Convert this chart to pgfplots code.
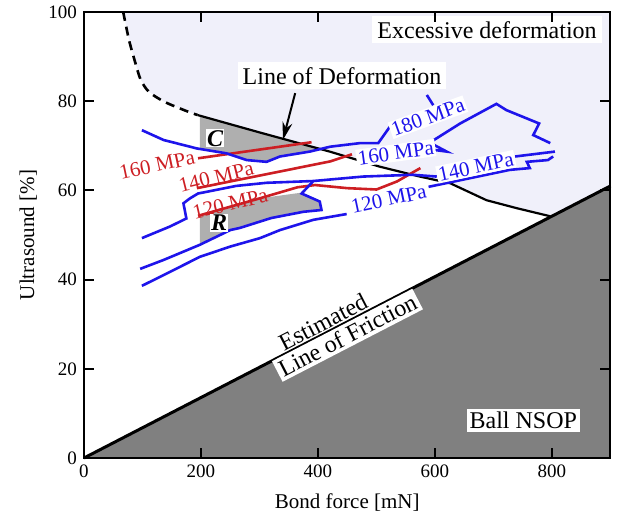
\documentclass[border=0pt]{standalone}
\usepackage{fontspec}
\setmainfont{Liberation Serif}
\usepackage{pgfplots}
\pgfplotsset{compat=1.18}
\usetikzlibrary{arrows.meta}
\definecolor{lav}{RGB}{240,240,250}
\definecolor{nsop}{RGB}{128,128,128}
\definecolor{cblue}{RGB}{30,20,235}
\definecolor{cred}{RGB}{205,30,35}
\definecolor{hatch}{RGB}{175,175,175}
\newcommand{\bigf}{\fontsize{12}{14}\selectfont}
\newcommand{\mpa}{\fontsize{10.5}{12}\selectfont}
\begin{document}
\begin{tikzpicture}
\useasboundingbox (-42pt,-29.5pt) rectangle (266.5pt,229pt);
\begin{axis}[at={(0,0)}, anchor=south west, scale only axis,
  width=263.25pt, height=223pt,
  xmin=0, xmax=900, ymin=0, ymax=100,
  xtick={0,200,400,600,800}, ytick={0,20,40,60,80,100},
  tick align=inside, major tick length=5pt,
  axis line style={line width=1pt},
  every tick/.style={black, line width=1pt},
  tick label style={font=\fontsize{9.5}{11}\selectfont},
  /pgf/number format/assume math mode=true,
  xlabel={Bond force [mN]}, ylabel={Ultrasound [\%]},
  label style={font=\fontsize{10.5}{12}\selectfont},
  xlabel style={at={(axis description cs:0.5,-0.10)}, anchor=center},
  ylabel style={at={(axis description cs:-0.106,0.5)}, anchor=center},
  axis on top, clip=false]
% excessive deformation region
\addplot[fill=lav, draw=none] coordinates {(67,100) (77,93.7) (88,88.5) (97,84.8) (111,82.1) (137,79.9) (171,78) (194,76.9) (300,73.0) (420,68.7) (506,65.3) (574,63.1) (626,61.6) (688,57.8) (740,56.0) (797,54.2) (900,61) (900,100)} -- cycle;
% ball NSOP region
\addplot[fill=nsop, draw=none] coordinates {(0,0) (900,61) (900,0)} -- cycle;
% hatched regions
\addplot[fill=hatch, draw=none] coordinates {(198,76.8) (300,72.9) (405,69.3) (386,68.7) (335,67.6) (312,66.4) (278,66.8) (244,68.3) (198,69.3)} -- cycle;
\addplot[fill=hatch, draw=none] coordinates {(198,54.4) (300,58.2) (372,59.5) (403,57.5) (406,55.6) (375,55.2) (320,53.8) (267,51.6) (250,51.1) (198,47.8)} -- cycle;
% line of deformation
\addplot[black, line width=1.3pt, dash pattern=on 4.5pt off 3pt, smooth] coordinates {(67,100) (77,93.7) (88,88.5) (97,84.8) (111,82.1) (137,79.9) (171,78) (194,76.9)};
\addplot[black, line width=1.1pt] coordinates {(194,76.9) (300,73.0) (420,68.7) (506,65.3) (574,63.1) (626,61.6) (688,57.8) (740,56.0) (797,54.2)};
% friction line
\addplot[black, line width=1.5pt] coordinates {(0,0) (900,61)};
% red contours
\addplot[cred, line width=1.3pt] coordinates {(195,67.2) (389,70.8)};
\addplot[cred, line width=1.3pt] coordinates {(193,60.5) (421,66.5) (458,68.1)};
\addplot[cred, line width=1.3pt] coordinates {(195,54.3) (300,58.2) (365,60.7) (395,61.2) (450,60.5) (500,60.2) (535,62.0) (575,65.0)};
% blue contours
\addplot[cblue, line width=1.3pt] coordinates {(99,73.5) (136,71.3) (193,69.4) (244,68.3) (278,66.8) (312,66.4) (335,67.6) (386,68.7) (421,69.8) (472,70.6) (503,70.6) (523,74.3)};
\addplot[cblue, line width=1.3pt] coordinates {(586,81.4) (597,79.1)};
\addplot[cblue, line width=1.3pt] coordinates {(597,69.1) (620,68.7) (591,70.7) (643,75.0) (705,79.4) (722,78.0) (778,75.0) (768,72.4) (797,70.6)};
\addplot[cblue, line width=1.3pt] coordinates {(99,49.3) (147,51.9) (175,53.7) (170,57.1) (181,58.2) (195,59.3) (260,61.0) (312,61.7) (392,62.1) (477,63.1) (562,63.5) (603,63.1)};
\addplot[cblue, line width=1.3pt] coordinates {(737,67.6) (805,68.7)};
\addplot[cblue, line width=1.3pt] coordinates {(96,42.4) (136,44.4) (198,47.8) (250,51.1) (267,51.6) (320,53.8) (375,55.2) (406,55.6) (403,57.5) (372,59.3) (392,62.1)};
\addplot[cblue, line width=1.3pt] coordinates {(99,38.6) (136,41.0) (198,45.1) (250,47.4) (301,49.3) (335,51.1) (392,53.4) (449,54.7)};
\addplot[cblue, line width=1.3pt] coordinates {(589,60.8) (728,64.6) (762,65.0) (757,66.4) (793,66.8) (802,67.6)};
% labels
\node[text=cred, inner sep=0.5pt, rotate=12, font=\mpa] at (axis cs:125,65.7) {160 MPa};
\node[text=cred, inner sep=0.5pt, rotate=14, font=\mpa] at (axis cs:226,63.0) {140 MPa};
\node[text=cred, inner sep=0.5pt, rotate=13, font=\mpa] at (axis cs:250,57.0) {120 MPa};
\node[text=cblue, fill=white, inner sep=0.8pt, rotate=12, font=\mpa] at (axis cs:521,58.1) {120 MPa};
\node[text=cblue, fill=white, inner sep=0.8pt, rotate=12, font=\mpa] at (axis cs:670,65.3) {140 MPa};
\node[text=cblue, fill=white, inner sep=0.8pt, rotate=8, font=\mpa] at (axis cs:533,68.4) {160 MPa};
\node[text=cblue, fill=white, inner sep=0.8pt, rotate=20, font=\mpa] at (axis cs:588,76.4) {180 MPa};
\node[fill=white, inner sep=2.5pt, font=\bigf] at (axis cs:689,96.0) {Excessive deformation};
\node[fill=white, inner sep=2.5pt, font=\bigf] at (axis cs:441,85.7) {Line of Deformation};
\draw[-{Stealth[length=9pt,width=5pt]}, line width=1pt] (axis cs:361,81.8) -- (axis cs:340,71.3);
\node[anchor=south, rotate=27.3, inner sep=1pt, font=\bigf] at (axis cs:417,28.3) {Estimated};
\node[anchor=north, rotate=27.3, fill=white, inner sep=1.5pt, font=\bigf] at (axis cs:441,29.9) {Line of Friction};
\node[fill=white, inner sep=1.5pt, font=\bigf] at (axis cs:751,8.5) {Ball NSOP};
\node[fill=white, inner sep=0.5pt, font=\bigf\bfseries\itshape] at (axis cs:224,71.7) {C};
\node[fill=white, inner sep=0.5pt, font=\bigf\bfseries\itshape] at (axis cs:231,52.7) {R};
\end{axis}
\end{tikzpicture}
\end{document}
